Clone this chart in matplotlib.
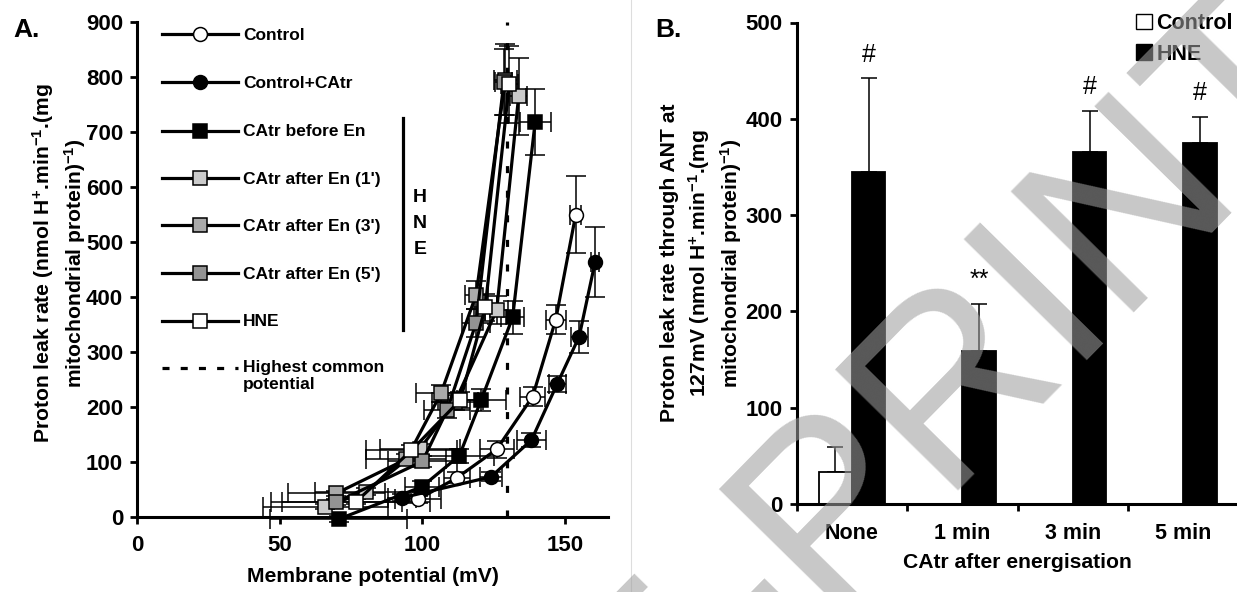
import matplotlib
matplotlib.use("Agg")
import matplotlib.pyplot as plt
import numpy as np
from matplotlib.patches import Patch
from matplotlib.lines import Line2D

plt.rcParams['font.family'] = ['Liberation Sans', 'DejaVu Sans']
plt.rcParams['font.weight'] = 'bold'
plt.rcParams['mathtext.fontset'] = 'custom'
plt.rcParams['mathtext.rm'] = 'Liberation Sans:bold'
plt.rcParams['mathtext.bf'] = 'Liberation Sans:bold'
plt.rcParams['mathtext.it'] = 'Liberation Sans:bold'

# ---------------- Panel A: proton leak kinetics ----------------
control_mv = [98.4, 112.0, 126.0, 138.6, 146.7, 153.7]
control_rate = [32, 71, 123, 219, 359, 550]
control_xerr = [8, 4.5, 6, 4.5, 3.5, 2]
control_yerr = [6, 10, 15, 18, 26, 70]

ctrl_catr_mv = [92.9, 124.0, 138.2, 147.2, 154.9, 160.5]
ctrl_catr_rate = [35, 73, 140, 242, 328, 464]
ctrl_catr_xerr = [5, 4, 5, 3, 3, 1.5]
ctrl_catr_yerr = [6, 8, 12, 15, 29, 64]

catr_before_mv = [70.6, 99.8, 112.9, 120.6, 131.6, 139.5]
catr_before_rate = [-4, 55, 111, 213, 363, 719]
catr_before_xerr = [24, 6, 12, 8.5, 4, 5.5]
catr_before_yerr = [5, 10, 12, 20, 30, 60]

after1_mv = [66.0, 80.3, 99.0, 111.5, 126.0, 133.7]
after1_rate = [19, 46, 123, 210, 376, 765]
after1_xerr = [22, 18, 14, 8, 4, 3]
after1_yerr = [5, 6, 10, 15, 25, 70]

after3_mv = [69.8, 94.3, 106.5, 118.8, 129.0]
after3_rate = [43, 105, 225, 404, 795]
after3_xerr = [17, 14, 8.7, 4, 4]
after3_yerr = [5, 10, 15, 25, 65]

after5_mv = [69.8, 100.0, 108.7, 118.8, 128.5]
after5_rate = [27, 101, 195, 353, 790]
after5_xerr = [23, 12, 8, 5, 3]
after5_yerr = [5, 10, 15, 25, 60]

hne_mv = [76.8, 96.1, 113.3, 122.0, 130.4]
hne_rate = [28, 121, 213, 381, 787]
hne_xerr = [26, 16, 8, 4, 3]
hne_yerr = [5, 10, 15, 25, 70]

common_potential = 129.5

series_labels = ['Control', 'Control+CAtr', 'CAtr before En', "CAtr after En (1')",
                 "CAtr after En (3')", "CAtr after En (5')", 'HNE']
series_markers = ['o', 'o', 's', 's', 's', 's', 's']
series_faces = ['white', 'black', 'black', '#cbcbcb', '#a9a9a9', '#939393', 'white']

# ---------------- Panel B: leak through ANT at 127 mV ----------------
categories = ['None', '1 min', '3 min', '5 min']
control_b = [33]
control_b_err = [26]
hne_b = [345, 159, 366, 375]
hne_b_err = [97, 49, 42, 27]
signif = ['#', '**', '#', '#']

W, H = 1237, 592
fig = plt.figure(figsize=(W / 100, H / 100), dpi=100)

TICK_FS = 16
LABEL_FS = 15.2


def frac_box(x0, y0, x1, y1):
    return [x0 / W, 1 - y1 / H, (x1 - x0) / W, (y1 - y0) / H]


axA = fig.add_axes(frac_box(137, 22, 608, 517))
axB = fig.add_axes(frac_box(796.7, 22.5, 1238.7, 504))

for ax in (axA, axB):
    for s in ('top', 'right'):
        ax.spines[s].set_visible(False)
    for s in ('left', 'bottom'):
        ax.spines[s].set_linewidth(2.2)
    ax.tick_params(axis='both', which='both', direction='out', width=2.0,
                   labelsize=TICK_FS, length=5)

series = [
    (control_mv, control_rate, control_xerr, control_yerr),
    (ctrl_catr_mv, ctrl_catr_rate, ctrl_catr_xerr, ctrl_catr_yerr),
    (catr_before_mv, catr_before_rate, catr_before_xerr, catr_before_yerr),
    (after1_mv, after1_rate, after1_xerr, after1_yerr),
    (after3_mv, after3_rate, after3_xerr, after3_yerr),
    (after5_mv, after5_rate, after5_xerr, after5_yerr),
    (hne_mv, hne_rate, hne_xerr, hne_yerr),
]

for i, (mv, rate, xe, ye) in enumerate(series):
    axA.errorbar(mv, rate, xerr=xe, yerr=ye, fmt='none', ecolor='black',
                 elinewidth=1.1, capsize=7, capthick=1.1, zorder=2 + i * 0.1,
                 clip_on=False)
for i, (mv, rate, xe, ye) in enumerate(series):
    axA.plot(mv, rate, color='black', lw=2.3, marker=series_markers[i],
             markersize=10, markerfacecolor=series_faces[i],
             markeredgecolor='black', markeredgewidth=1.1, zorder=3 + i,
             clip_on=False)

axA.plot([common_potential, common_potential], [0, 900], color='black', lw=2.3,
         linestyle=(0, (2.2, 5.5)), zorder=1.5)

axA.set_xlim(0, 165)
axA.set_ylim(0, 900)
axA.set_xticks([0, 50, 100, 150])
axA.set_yticks(np.arange(0, 901, 100))
axA.tick_params(axis='x', pad=8)
axA.tick_params(axis='y', pad=5)
axA.set_xlabel('Membrane potential (mV)', fontsize=LABEL_FS, fontweight='bold', labelpad=8)

fig.text(59 / W, 1 - 263 / H,
         'Proton leak rate (nmol H$^{+}$.min$^{-1}$.(mg\nmitochondrial protein)$^{-1}$)',
         rotation=90, rotation_mode='anchor', ha='center', va='center',
         multialignment='center', fontsize=LABEL_FS, fontweight='bold', linespacing=1.35)

# hand-drawn legend for panel A
leg_rows = [34, 81.5, 130.5, 178, 225, 272.5, 320.5]
tA = axA.transAxes


def ax_frac(px, py):
    return ((px - 137) / (608 - 137), (517 - py) / (517 - 22))


for i, py in enumerate(leg_rows):
    x0, y = ax_frac(162, py)
    x1, _ = ax_frac(238, py)
    xm, _ = ax_frac(200, py)
    axA.add_line(Line2D([x0, x1], [y, y], transform=tA, color='black', lw=2.3, clip_on=False))
    axA.add_line(Line2D([xm], [y], transform=tA, marker=series_markers[i], markersize=10,
                        markerfacecolor=series_faces[i], markeredgecolor='black',
                        markeredgewidth=1.1, clip_on=False))
    xt, _ = ax_frac(243, py)
    axA.text(xt, y, series_labels[i], transform=tA, ha='left', va='center_baseline',
             fontsize=12.5, fontweight='bold')

x0, y = ax_frac(162, 368)
x1, _ = ax_frac(238, 368)
axA.add_line(Line2D([x0, x1], [y, y], transform=tA, color='black', lw=2.3,
                    linestyle=(0, (2.2, 3.5)), clip_on=False))
xt, yt = ax_frac(243, 360)
axA.text(xt, yt, 'Highest common\npotential', transform=tA, ha='left', va='top',
         fontsize=12.5, fontweight='bold', linespacing=1.15)

# HNE bracket
xb, yb0 = ax_frac(403, 118)
_, yb1 = ax_frac(403, 330)
axA.add_line(Line2D([xb, xb], [yb0, yb1], transform=tA, color='black', lw=2.3, clip_on=False))
for letter, py in zip('HNE', [198, 224, 249]):
    xl, yl = ax_frac(420, py)
    axA.text(xl, yl, letter, transform=tA, ha='center', va='center',
             fontsize=14, fontweight='bold')

fig.text(27 / W, 1 - 30 / H, 'A.', fontsize=19, fontweight='bold', ha='center', va='center')
fig.text(668 / W, 1 - 30 / H, 'B.', fontsize=19, fontweight='bold', ha='center', va='center')

# ---------------- Panel B drawing ----------------
xpos = np.arange(len(categories))
bw = 0.3
axB.bar(xpos[:1] - 0.15, control_b, width=bw, color='white', edgecolor='black',
        linewidth=1.3, zorder=2, label='Control')
axB.bar(xpos + 0.15, hne_b, width=bw, color='black', edgecolor='black', linewidth=1.3,
        zorder=2, label='HNE')
# upper-only error bars
axB.errorbar(xpos[:1] - 0.15, control_b, yerr=[np.zeros(len(control_b)), control_b_err],
             fmt='none', ecolor='black', elinewidth=1.1, capsize=6, capthick=1.1, zorder=1)
axB.errorbar(xpos + 0.15, hne_b, yerr=[np.zeros(len(hne_b)), hne_b_err], fmt='none',
             ecolor='black', elinewidth=1.1, capsize=6, capthick=1.1, zorder=1)
for x, v, e, s in zip(xpos + 0.15, hne_b, hne_b_err, signif):
    axB.annotate(s, (x, v + e), xytext=(0, 12), textcoords='offset points',
                 ha='center', va='baseline', fontsize=18, fontweight='normal')

axB.set_xlim(-0.5, 3.5)
axB.set_ylim(0, 500)
axB.set_yticks(np.arange(0, 501, 100))
axB.set_xticks(xpos)
axB.set_xticklabels(categories)
axB.set_xticks(np.arange(-0.5, 3.0, 1.0), minor=True)
axB.tick_params(axis='x', which='major', length=0, pad=14, labelsize=15.5)
axB.tick_params(axis='x', which='minor', length=5, width=2.0)
axB.tick_params(axis='y', pad=5)
axB.set_xlabel('CAtr after energisation', fontsize=LABEL_FS, fontweight='bold', labelpad=6)

fig.text(702 / W, 1 - 263 / H,
         'Proton leak rate through ANT at\n127mV (nmol H$^{+}$.min$^{-1}$.(mg\nmitochondrial protein)$^{-1}$)',
         rotation=90, rotation_mode='anchor', ha='center', va='center',
         multialignment='center', fontsize=LABEL_FS, fontweight='bold', linespacing=1.35)

axB.legend(handles=[Patch(facecolor='white', edgecolor='black', linewidth=1.0),
                    Patch(facecolor='black', edgecolor='black')],
           labels=['Control', 'HNE'], loc='upper left',
           bbox_to_anchor=(1136 / W, 1 - 13 / H), bbox_transform=fig.transFigure,
           frameon=False, handlelength=0.75, handleheight=0.75,
           handletextpad=0.2, labelspacing=0.45, borderpad=0, borderaxespad=0,
           prop=dict(weight='bold', size=15.5))

for ax in (axA, axB):
    for lab in ax.get_xticklabels() + ax.get_yticklabels():
        lab.set_fontweight('bold')

# panel divider
fig.add_artist(Line2D([631 / W, 631 / W], [0, 1], transform=fig.transFigure,
                      color='#dddddd', lw=0.8))

# preprint watermark
fig.text(875 / W, 1 - 554 / H, 'PRE-PRINT', rotation=45.5, rotation_mode='anchor',
         ha='center', va='baseline', fontsize=180, fontweight='normal',
         color='#9e9e9e', alpha=0.57, zorder=10)

fig.savefig('out.png', dpi=100)
